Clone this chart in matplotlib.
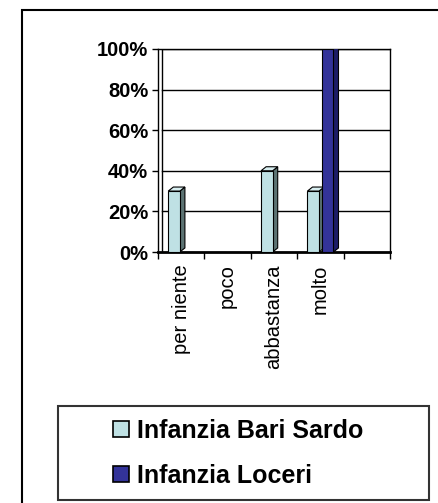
import numpy as np
import matplotlib
matplotlib.use("Agg")
import matplotlib.pyplot as plt
from matplotlib.lines import Line2D
from matplotlib.patches import Rectangle

plt.rcParams['font.family'] = ['Liberation Sans', 'DejaVu Sans']

# data
categories = ["per niente", "poco", "abbastanza", "molto", ""]
bari_sardo = [0.30, 0.0, 0.40, 0.30, 0.0]
loceri = [0.0, 0.0, 0.0, 1.0, 0.0]
series_names = ["Infanzia Bari Sardo", "Infanzia Loceri"]
y_ticks = [0.0, 0.2, 0.4, 0.6, 0.8, 1.0]
y_tick_labels = ["0%", "20%", "40%", "60%", "80%", "100%"]

col_front = ["#bfe1e4", "#333399"]
col_side = ["#5c7373", "#1c1c66"]
col_top = ["#d8eef0", "#4a4ab0"]

W, H = 439, 503
fig = plt.figure(figsize=(W / 100, H / 100), dpi=100)
ax = fig.add_axes([158 / W, 1 - 252 / H, (390 - 158) / W, (252 - 49) / H])

# outer chart frame (runs off the right and bottom edge in the reference)
fig.patches.append(Rectangle((22 / W, -0.1), 1.2, 1 - 10 / H + 0.1,
                             transform=fig.transFigure, fill=False,
                             edgecolor="black", linewidth=1.5))

x = np.arange(len(categories))
bw = 0.25
offs = [-0.155, 0.155]
dx, dy = 0.11, 0.02

ax.set_xlim(-0.5, len(categories) - 0.5)
ax.set_ylim(0, 1)

for y in y_ticks[1:]:
    ax.axhline(y, xmin=0.09 / len(categories), color="black", linewidth=1.0, zorder=1)
ax.axvline(-0.5 + 0.09, color="black", linewidth=1.0, zorder=1)

for si, vals in enumerate([bari_sardo, loceri]):
    for xi, v in zip(x, vals):
        left = xi + offs[si] - bw / 2
        right = left + bw
        if v > 0:
            ax.fill([right, right + dx, right + dx, right],
                    [0, dy, v + dy, v], color=col_side[si],
                    edgecolor="black", linewidth=0.8, zorder=3 + si)
            ax.fill([left, left + dx, right + dx, right],
                    [v, v + dy, v + dy, v], color=col_top[si],
                    edgecolor="black", linewidth=0.8, zorder=3 + si)
        ax.bar(left, v, width=bw, align="edge", color=col_front[si],
               edgecolor="black", linewidth=0.8, zorder=3 + si)

for s in ["left", "right", "top"]:
    ax.spines[s].set_linewidth(1.0)
ax.spines["bottom"].set_linewidth(2.0)

ax.set_yticks(y_ticks)
ax.set_yticklabels(y_tick_labels, fontsize=14.5, fontweight="bold")
ax.tick_params(axis="y", length=4, width=1, pad=3)

ax.set_xticks(x)
ax.set_xticklabels(categories, rotation=90, fontsize=14.5, va="top")
ax.tick_params(axis="x", which="major", length=0, pad=9)
ax.set_xticks(np.arange(len(categories) + 1) - 0.5, minor=True)
ax.tick_params(axis="x", which="minor", length=5, width=1)

handles = [Line2D([], [], linestyle="none", marker="s", markersize=11.5,
                  markerfacecolor=c, markeredgecolor="black",
                  markeredgewidth=1.2) for c in col_front]
leg = fig.legend(handles, series_names, loc="upper left",
                 bbox_to_anchor=(58 / W, 0.0, (429 - 58) / W, 1 - 406 / H),
                 mode="expand", borderaxespad=0, borderpad=0.5,
                 handlelength=4.04, handletextpad=-1.38, labelspacing=0.85,
                 prop={"size": 18, "weight": "bold"}, fancybox=False)
leg.get_frame().set_edgecolor("black")
leg.get_frame().set_linewidth(1.5)

fig.savefig("out.png", dpi=100)
